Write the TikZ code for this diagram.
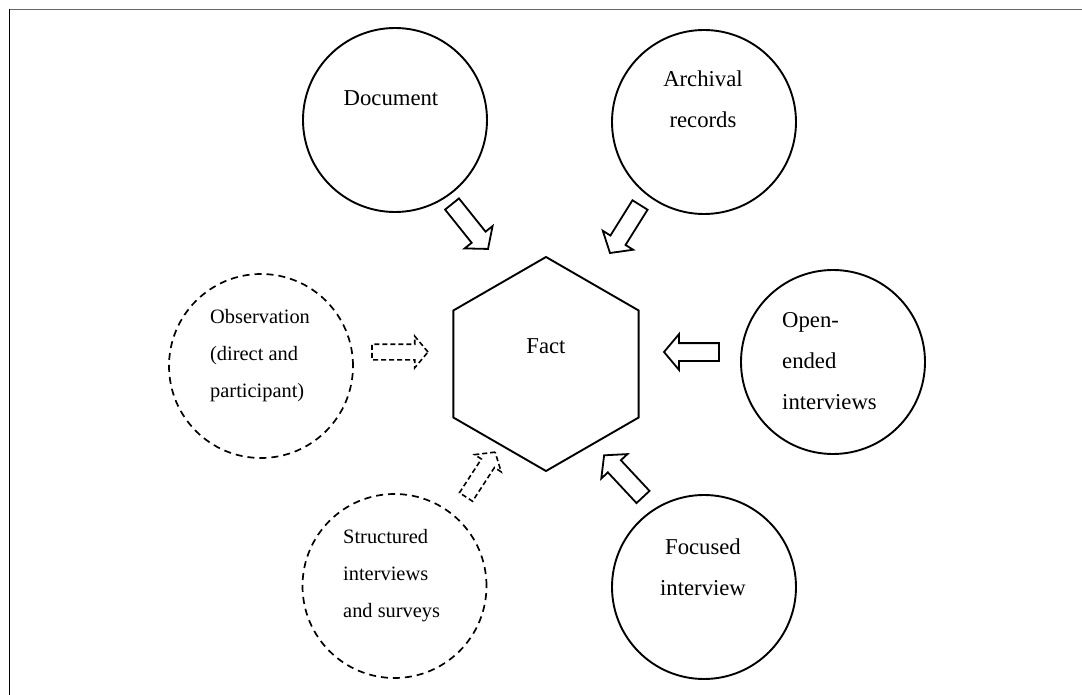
\documentclass[tikz,border=0pt]{standalone}
\usepackage{fontspec}
\setmainfont{Liberation Serif}
\usetikzlibrary{shapes.geometric,shapes.arrows}
\tikzset{
  src/.style={circle, draw, line width=1.9pt, minimum size=184pt, inner sep=0pt},
  dsrc/.style={src, line width=1.7pt, dash pattern=on 7pt off 5pt},
  lbl/.style={inner sep=0pt, font=\fontsize{22.7pt}{41pt}\selectfont, text=black},
  dlbl/.style={inner sep=0pt, font=\fontsize{20.4pt}{37pt}\selectfont, text=black},
  barrow/.style={single arrow, draw, line width=1.8pt, anchor=tail, inner xsep=0pt, inner ysep=8pt, outer sep=0pt, text height=0pt, text depth=0pt, minimum width=0pt, single arrow head extend=9pt, single arrow tip angle=100},
  darrow/.style={barrow, line width=1.6pt, inner ysep=7pt, single arrow head extend=8pt, dash pattern=on 5pt off 3pt},
  hexa/.style={regular polygon, regular polygon sides=6, shape border rotate=30, draw, line width=1.9pt, minimum size=214pt, inner sep=0pt}
}
\begin{document}
\begin{tikzpicture}[x=1pt,y=-1pt]
\useasboundingbox (0,0) rectangle (1082,695);
\draw[black!60, line width=1.8pt] (9,9.5) -- (1082,9.5);
\draw[black, line width=1.8pt] (9.5,9) -- (9.5,695);

% central hexagon
\node[hexa, label={[lbl, yshift=18pt]center:Fact}] (fact) at (546,364) {};

% sources
\node[src] (doc) at (395,120) {};
\node[lbl] (docT) at (391,98) {Document};
\node[src] (arch) at (704,122) {};
\node[lbl, align=center] (archT) at (703,99) {Archival\\records};
\node[src] (open) at (833,362) {};
\node[lbl, align=left, anchor=west] (openT) at (782,361) {Open-\\ended\\interviews};
\node[src] (foc) at (704,587) {};
\node[lbl, align=center] (focT) at (703,567.5) {Focused\\interview};
\node[dsrc] (obs) at (261,366) {};
\node[dlbl, align=left, anchor=west] (obsT) at (210,355.5) {Observation\\(direct and\\participant)};
\node[dsrc] (str) at (394.5,586) {};
\node[dlbl, align=left, anchor=west] (strT) at (343,575.5) {Structured\\interviews\\and surveys};

% block arrows
\coordinate (t1) at (452,204);
\coordinate (t2) at (640,205);
\coordinate (t3) at (719,352);
\coordinate (t4) at (643,497);
\coordinate (t5) at (372,352);
\coordinate (t6) at (466,497);
\node[barrow, rotate=-51.3, minimum height=57.6pt] (docA) at (t1) {};
\node[barrow, rotate=-122, minimum height=56.6pt] (archA) at (t2) {};
\node[barrow, rotate=180, minimum height=55pt] (openA) at (t3) {};
\node[barrow, rotate=133, minimum height=57pt] (focA) at (t4) {};
\node[darrow, rotate=0, minimum height=56pt] (obsA) at (t5) {};
\node[darrow, rotate=57, minimum height=53.5pt] (strA) at (t6) {};
\end{tikzpicture}
\end{document}
